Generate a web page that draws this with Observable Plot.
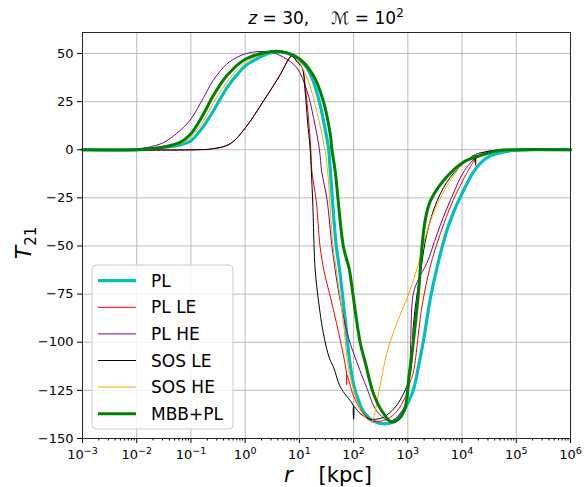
<!DOCTYPE html>
<html><head><meta charset="utf-8">
<script src="https://cdn.jsdelivr.net/npm/d3@7"></script>
<script src="https://cdn.jsdelivr.net/npm/@observablehq/plot@0.6"></script>
<style>body{margin:0;background:#fff;} svg{font-family:"DejaVu Sans",sans-serif;}</style>
</head><body><div id="chart"></div>
<script>
// log10(r [kpc]) and T21 values
const logR_PL = [-3,-2,-1.8,-1.5,-1.2,-1,-0.8,-0.59,-0.34,-0.15,0,0.2,0.38,0.58,0.8,0.95,1.1,1.2,1.35,1.48,1.54,1.57,1.68,1.74,1.84,1.92,2.0,2.1,2.18,2.37,2.67,2.89,2.98,3.1,3.2,3.29,3.41,3.54,3.72,3.85,4.03,4.2,4.34,4.5,4.64,4.95,5.3,6];
const T_PL    = [0,0,0.3,1.2,2.5,4.7,11,20,32,39,43.5,47,49.5,51,50,48,44,39.4,27,10,0,-11,-50,-62,-87,-108,-122,-131,-136,-141,-142,-137,-132.6,-125,-112,-99,-78,-61,-42,-32,-21,-12,-7,-3.5,-2,-0.3,0,0];

const logR_PLLE = [-3,-0.9,-0.6,-0.28,0.01,0.34,0.65,0.8,0.87,0.95,1.05,1.12,1.18,1.21,1.23,1.31,1.38,1.45,1.54,1.66,1.868,1.872,1.876,2.0,2.18,2.37,2.61,2.8,2.95,3.05,3.1,3.26,3.41,3.6,3.84,4.15,4.248,4.252,4.256,4.52,5,6];
const T_PLLE    = [0,0,0.5,3,11.6,25.4,39.2,47,48.6,46,42.7,30,12,0,-11,-26.5,-50,-62.5,-73,-87,-116,-122,-117,-128,-137,-141,-140,-135.8,-128.6,-120,-116,-81.6,-61,-43.6,-26,-9,-4.8,-8.3,-4.8,-1.5,0,0];

const logR_PLHE = [-3,-2.3,-2,-1.8,-1.5,-1.2,-1,-0.77,-0.59,-0.34,-0.15,0,0.25,0.5,0.71,0.95,1.14,1.26,1.37,1.41,1.51,1.6,1.66,1.75,1.9,2.05,2.24,2.43,2.67,2.86,2.98,3.04,3.1,3.2,3.35,3.54,3.78,4.09,4.4,5,6];
const T_PLHE    = [0,0,0.4,1.2,3.8,10,16,27,36,44.5,48,49.8,51,50.5,48,42.7,30.6,16.8,0,-11,-26,-50,-62.5,-78,-97,-109.6,-123.5,-135.8,-141,-137,-130,-110,-75,-67,-59,-43.7,-26.5,-9,-1.5,0,0];

const logR_SOSLE = [-3,-0.9,-0.6,-0.28,0.01,0.34,0.65,0.8,0.86,0.95,1.05,1.1,1.15,1.2,1.22,1.25,1.27,1.29,1.35,1.44,1.55,1.63,1.75,1.87,1.996,2.0,2.004,2.12,2.3,2.4,2.55,2.77,2.95,3.05,3.1,3.17,3.23,3.35,3.54,3.78,4.09,4.238,4.242,4.246,4.46,5,6];
const T_SOSLE    = [0,0,0.5,3,11.6,25.4,39.2,47,48.8,46,42.7,32,15,0,-11,-30,-50,-62,-78,-95,-108,-113,-123,-128,-133,-140,-133.5,-137,-140,-140,-139,-133.6,-125,-116,-92,-75,-64.5,-43.7,-26.5,-14.4,-5.6,-2.8,-6.6,-2.8,-1,0,0];

const logR_SOSHE = [-3,-2,-1.8,-1.5,-1.2,-1,-0.77,-0.59,-0.34,0,0.38,0.6,0.89,1.14,1.32,1.47,1.52,1.62,1.68,1.8,1.9,2.0,2.12,2.25,2.33,2.38,2.43,2.52,2.58,2.65,2.8,3.04,3.23,3.29,3.47,3.72,4.03,4.34,4.7,5,6];
const T_SOSHE    = [0,0,0.3,1.3,3,6.5,15,24,35,45.5,50,51,49,37.5,20,0,-11,-50,-62,-87,-112,-125,-135,-140,-141.5,-138,-131,-118,-109.6,-102,-90,-73,-56,-48.7,-33,-19,-7,-2.5,-0.5,0,0];

const logR_MBB = [-3,-2,-1.8,-1.5,-1.2,-1,-0.77,-0.59,-0.34,0,0.38,0.65,1.01,1.26,1.44,1.57,1.6,1.66,1.81,1.92,1.96,2.12,2.21,2.37,2.55,2.7,2.83,2.95,3.02,3.08,3.2,3.26,3.32,3.41,3.66,4.03,4.34,4.65,5,6];
const T_MBB    = [0,0,0.4,1.5,3.8,8.3,18.5,28,38.4,47,50.5,51,47,38.4,25.4,8,0,-11,-50,-62,-69.5,-100,-110,-127,-137,-141.5,-140,-134,-118,-105,-73,-50.5,-36.7,-27,-16,-6.4,-3,-0.5,0,0];

const seriesNames  = ["PL","PL LE","PL HE","SOS LE","SOS HE","MBB+PL"];
const seriesColors = ["#00bfbf","#ff0000","#800080","#000000","#ffa500","#008000"];
const seriesWidths = [3.2,1,1,1,1,3];
const xMajorExp = [-3,-2,-1,0,1,2,3,4,5,6];
const yTicks = [50,25,0,-25,-50,-75,-100,-125,-150];

const logs = [logR_PL,logR_PLLE,logR_PLHE,logR_SOSLE,logR_SOSHE,logR_MBB];
const temps = [T_PL,T_PLLE,T_PLHE,T_SOSLE,T_SOSHE,T_MBB];
const rows = seriesNames.map((name,i)=>logs[i].map((l,j)=>({series:name, r:Math.pow(10,l), T:temps[i][j]})));

const xMajor = xMajorExp.map(e=>Math.pow(10,e));
const xMinor = [];
for (let e=-3;e<6;e++) for (let k=2;k<10;k++) xMinor.push(k*Math.pow(10,e));
const expFmt = d => "10^" + String(Math.round(Math.log10(d))).replace("-","−");
const minusFmt = d => String(d).replace("-","−");

const chart = Plot.plot({
  width:587, height:487,
  marginLeft:82, marginRight:17, marginTop:32, marginBottom:49,
  x:{type:"log", domain:[1e-3,1e6]},
  y:{domain:[-150,60.9]},
  style:{fontFamily:"DejaVu Sans", fontSize:"13px", color:"#000", background:"#fff"},
  marks:[
    Plot.gridX(xMajor,{stroke:"#b0b0b0", strokeOpacity:0.85, strokeWidth:1}),
    Plot.gridY(yTicks,{stroke:"#b0b0b0", strokeOpacity:0.85, strokeWidth:1}),
    ...rows.map((d,i)=>Plot.line(d,{x:"r", y:"T", stroke:seriesColors[i], strokeWidth:seriesWidths[i], curve:"catmull-rom"})),
    Plot.frame({stroke:"#262626", strokeWidth:1}),
    Plot.axisX(xMinor,{tickSize:2.5, tickFormat:()=>"", label:null}),
    Plot.axisX(xMajor,{tickSize:5, tickPadding:6, tickFormat:expFmt, label:null, fontSize:13}),
    Plot.axisY(yTicks,{tickSize:5, tickPadding:4, tickFormat:minusFmt, label:null, fontSize:13})
  ]
});
document.getElementById("chart").appendChild(chart);

const svg = d3.select(chart);
// superscript exponents on the x tick labels
svg.selectAll("text").each(function(){
  const t = d3.select(this);
  const s = t.text();
  if (/^10\^/.test(s) && this.childElementCount === 0) {
    const e = s.slice(3);
    t.text("");
    t.append("tspan").text("10");
    t.append("tspan").attr("font-size",9.5).attr("dy","-0.55em").text(e);
  }
});
// title
const title = svg.append("text").attr("x",326).attr("y",24).attr("text-anchor","middle")
  .attr("font-size",17).attr("fill","#000");
title.append("tspan").attr("font-style","italic").text("z");
title.append("tspan").text(" = 30,");
title.append("tspan").attr("dx",22).text("ℳ");
title.append("tspan").text(" = 10");
title.append("tspan").attr("font-size",12).attr("dy",-7).text("2");
// x label
const xl = svg.append("text").attr("x",328).attr("y",482).attr("text-anchor","middle")
  .attr("font-size",21).attr("fill","#000");
xl.append("tspan").attr("font-style","italic").text("r");
xl.append("tspan").attr("dx",26).text("[kpc]");
// y label
const yl = svg.append("text").attr("transform","translate(31,243) rotate(-90)").attr("text-anchor","middle")
  .attr("font-size",22).attr("fill","#000");
yl.append("tspan").attr("font-style","italic").text("T");
yl.append("tspan").attr("font-size",15).attr("dy",5).text("21");
// legend
const lg = svg.append("g").attr("text-anchor","start");
lg.append("rect").attr("x",92).attr("y",265).attr("width",141).attr("height",164).attr("rx",4)
  .attr("fill","#fff").attr("fill-opacity",0.8).attr("stroke","#cccccc");
seriesNames.forEach((name,i)=>{
  const cy = 280.7 + i*26.6;
  lg.append("line").attr("x1",98).attr("x2",136).attr("y1",cy).attr("y2",cy)
    .attr("stroke",seriesColors[i]).attr("stroke-width",seriesWidths[i]);
  lg.append("text").attr("x",151).attr("y",cy+6).attr("text-anchor","start")
    .attr("font-size",17).attr("fill","#000").text(name);
});
</script></body></html>
